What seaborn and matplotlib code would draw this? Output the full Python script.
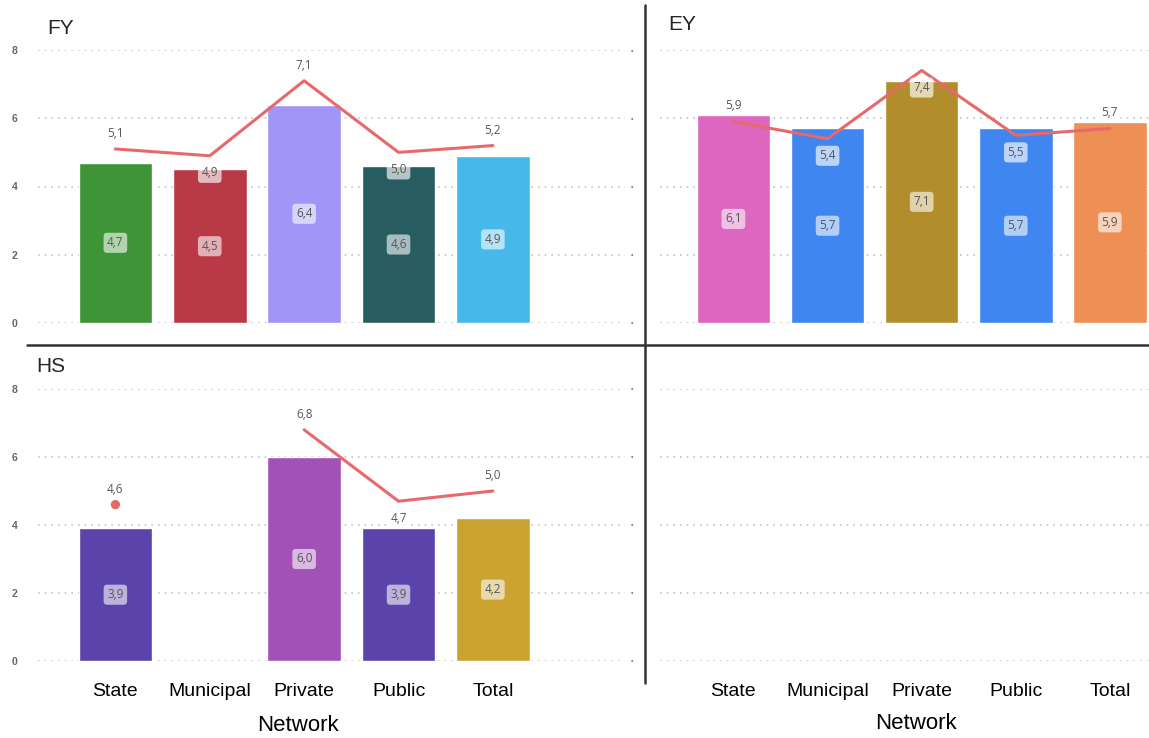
import numpy as np
import pandas as pd
import matplotlib
matplotlib.use("Agg")
import matplotlib.pyplot as plt
from matplotlib.lines import Line2D
import seaborn as sns

categories = ["State", "Municipal", "Private", "Public", "Total"]

fy_bars = [4.7, 4.5, 6.4, 4.6, 4.9]
fy_line = [5.1, 4.9, 7.1, 5.0, 5.2]
ey_bars = [6.1, 5.7, 7.1, 5.7, 5.9]
ey_line = [5.9, 5.4, 7.4, 5.5, 5.7]
hs_bars = [3.9, np.nan, 6.0, 3.9, 4.2]
hs_line = [4.6, np.nan, 6.8, 4.7, 5.0]

fy_colors = ["#3E9437", "#B93A46", "#A195F7", "#275C60", "#47B8EA"]
ey_colors = ["#DC66C0", "#3F86F1", "#B18E2B", "#3F86F1", "#EE8F55"]
hs_colors = ["#5A43AB", "#FFFFFF", "#A251B5", "#5A43AB", "#CAA330"]

# where the line labels sit: above point, above bar top, or boxed under point
fy_place = ["up", "in", "up", "in", "up"]
ey_place = ["bar", "in", "in", "in", "bar"]
hs_place = ["up", None, "up", "bar", "up"]

LINE_COLOR = "#E8696B"
W, H = 1149, 738

sns.set_theme(style="white")
plt.rcParams["font.family"] = ["Liberation Sans", "DejaVu Sans"]

fig = plt.figure(figsize=(W / 100, H / 100), dpi=100)


def px_axes(x0, x1, y_top, y_bot):
    return fig.add_axes([x0 / W, (H - y_bot) / H, (x1 - x0) / W, (y_bot - y_top) / H])


def fmt(v):
    return f"{v:.1f}".replace(".", ",")


def draw_panel(ax, bars, line, colors, place, xlim, numbers=True):
    df = pd.DataFrame({"Network": categories, "value": bars})
    sns.barplot(data=df, x="Network", y="value", hue="Network", order=categories,
                hue_order=categories, palette=colors, legend=False, width=0.78,
                saturation=1, ax=ax)
    xs = np.arange(len(categories))
    ax.plot(xs, line, color=LINE_COLOR, lw=2.2, solid_capstyle="round", zorder=4)
    # isolated points (neighbours missing) get a dot
    for i, v in enumerate(line):
        if np.isnan(v):
            continue
        left = line[i - 1] if i > 0 else np.nan
        right = line[i + 1] if i < len(line) - 1 else np.nan
        if np.isnan(left) and np.isnan(right):
            ax.scatter([i], [v], s=45, color=LINE_COLOR, zorder=5, edgecolor="none")
    lab = dict(ha="center", va="center", fontsize=8.5, color="#555555",
               family="Open Sans", zorder=6)
    # bar labels
    for i, v in enumerate(bars):
        if np.isnan(v):
            continue
        ax.text(i, v / 2, fmt(v), **lab,
                bbox=dict(boxstyle="round,pad=0.3,rounding_size=0.3", fc="white",
                          ec="none", alpha=0.6))
    # line labels
    for i, v in enumerate(line):
        p = place[i]
        if p is None or np.isnan(v):
            continue
        if p == "up":
            ax.text(i, v + 0.45, fmt(v), **lab)
        elif p == "bar":
            ax.text(i, bars[i] + 0.28, fmt(v), **lab,
                    bbox=dict(boxstyle="round,pad=0.2", fc="white", ec="none", alpha=0.8))
        else:
            ax.text(i, v - 0.5, fmt(v), **lab,
                    bbox=dict(boxstyle="round,pad=0.3,rounding_size=0.3", fc="white",
                              ec="none", alpha=0.65))
    style_axes(ax, xlim, numbers)


def style_axes(ax, xlim, numbers):
    ax.set_xlim(*xlim)
    ax.set_ylim(0, 8)
    ax.set_yticks([0, 2, 4, 6, 8])
    ax.yaxis.grid(True, linestyle=(0, (1, 3)), color="#C4C4C4", lw=1.2)
    ax.set_axisbelow(True)
    for s in ax.spines.values():
        s.set_visible(False)
    if numbers:
        ax.set_yticklabels(["0", "2", "4", "6", "8"])
        ax.tick_params(axis="y", length=0, pad=17, labelsize=7.5, labelcolor="#666666")
        for t in ax.get_yticklabels():
            t.set_fontweight("bold")
            t.set_horizontalalignment("center")
    else:
        ax.set_yticklabels(["•"] * 5)
        ax.tick_params(axis="y", length=0, pad=19, labelsize=5, labelcolor="#777777")
    ax.set_ylabel("")
    ax.set_xlabel("")
    ax.set_xticks(range(len(categories)))
    ax.set_xticklabels([])
    ax.tick_params(axis="x", length=0)


left_xlim = (-0.82, 5.40)
right_xlim = (-0.78, 4.415)

ax_fy = px_axes(38, 625, 50, 323)
draw_panel(ax_fy, fy_bars, fy_line, fy_colors, fy_place, left_xlim)

ax_ey = px_axes(660, 1149, 50, 323)
draw_panel(ax_ey, ey_bars, ey_line, ey_colors, ey_place, right_xlim, numbers=False)

ax_hs = px_axes(38, 625, 389, 661)
draw_panel(ax_hs, hs_bars, hs_line, hs_colors, hs_place, left_xlim)

ax_empty = px_axes(660, 1149, 389, 661)
style_axes(ax_empty, right_xlim, numbers=False)

for ax in (ax_hs, ax_empty):
    ax.set_xticklabels(categories)
    ax.tick_params(axis="x", pad=16, labelsize=14, labelcolor="black")
    ax.set_xlabel("Network", fontsize=16, color="black")
ax_hs.xaxis.set_label_coords((298 - 38) / 587, -0.20)
ax_empty.xaxis.set_label_coords((916 - 660) / 489, -0.19)

fig.text(47 / W, 1 - 28 / H, "FY", fontsize=15, va="center", ha="left")
fig.text(668 / W, 1 - 25 / H, "EY", fontsize=15, va="center", ha="left")
fig.text(36 / W, 1 - 367 / H, "HS", fontsize=15, va="center", ha="left")

# panel dividers
fig.add_artist(Line2D([645 / W, 645 / W], [1 - 5 / H, 1 - 683 / H], color="#333333", lw=1.8))
fig.add_artist(Line2D([27 / W, 1.0], [1 - 345 / H, 1 - 345 / H], color="#333333", lw=1.8))

fig.savefig("out.png", dpi=100)
